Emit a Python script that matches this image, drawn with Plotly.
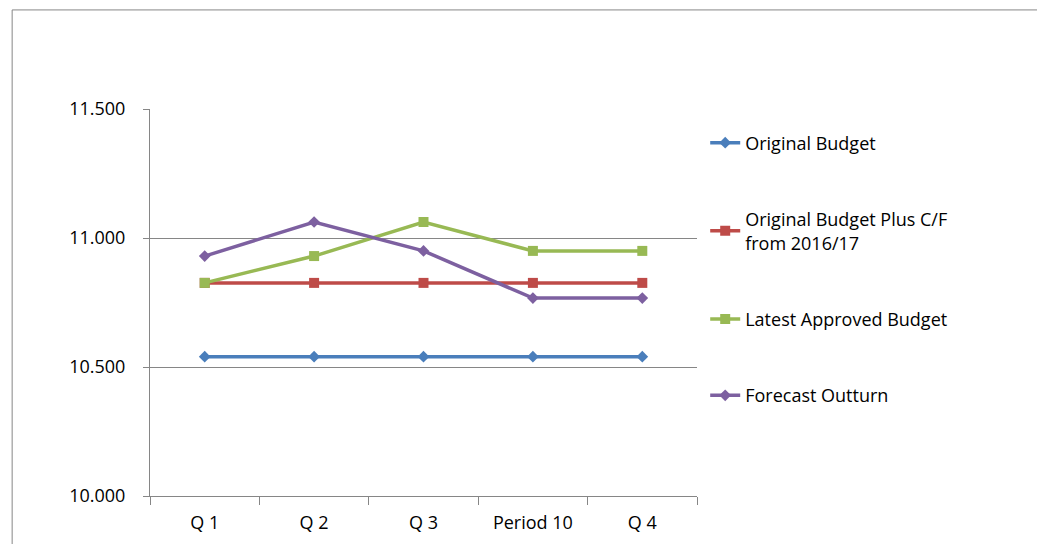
import plotly.graph_objects as go

categories = ["Q 1", "Q 2", "Q 3", "Period 10", "Q 4"]
original = [10.54, 10.54, 10.54, 10.54, 10.54]
plus_cf = [10.826, 10.826, 10.826, 10.826, 10.826]
latest = [10.826, 10.93, 11.062, 10.95, 10.95]
forecast = [10.93, 11.062, 10.95, 10.767, 10.767]

series = [
    ("Original Budget", original, "#4A7EBB", "diamond", 9),
    ("Original Budget Plus C/F<br>from 2016/17", plus_cf, "#BE4B48", "square", 10),
    ("Latest Approved Budget", latest, "#98B954", "square", 10),
    ("Forecast Outturn", forecast, "#7D60A0", "diamond", 9),
]

fig = go.Figure()
for i, (name, vals, col, sym, sz) in enumerate(series):
    fig.add_trace(go.Scatter(x=categories, y=vals, name=name, mode="lines+markers",
                             line=dict(color=col, width=3.5),
                             marker=dict(symbol=sym, size=sz, color=col),
                             legendgroup=str(i)))

fig.update_layout(
    width=1045, height=544,
    margin=dict(l=142, r=356, t=101, b=56),
    paper_bgcolor="white", plot_bgcolor="white",
    font=dict(family="Open Sans, Liberation Sans", size=18, color="black"),
    showlegend=True,
    legend=dict(x=1.015, y=0.96, xanchor="left", yanchor="top", tracegroupgap=50,
                font=dict(size=18)),
    xaxis=dict(type="category", showgrid=False, showline=True, linecolor="#868686",
               ticks="outside", tickson="boundaries", ticklen=8, tickcolor="#868686",
               range=[-0.5, 4.5], tickfont=dict(size=18), ticklabelstandoff=10),
    yaxis=dict(range=[10.0, 11.5], tickvals=[10.0, 10.5, 11.0, 11.5], tickformat=".3f",
               showgrid=True, gridcolor="#868686", gridwidth=1, showline=True,
               linecolor="#868686", ticks="outside", ticklen=6, tickcolor="#868686",
               zeroline=False, tickfont=dict(size=18), ticklabelstandoff=14),
    shapes=[dict(type="rect", xref="paper", yref="paper", x0=-0.252, x1=1.633,
                 y0=-0.5, y1=1.256, line=dict(color="#868686", width=1))],
)
fig.write_html("out.html")
